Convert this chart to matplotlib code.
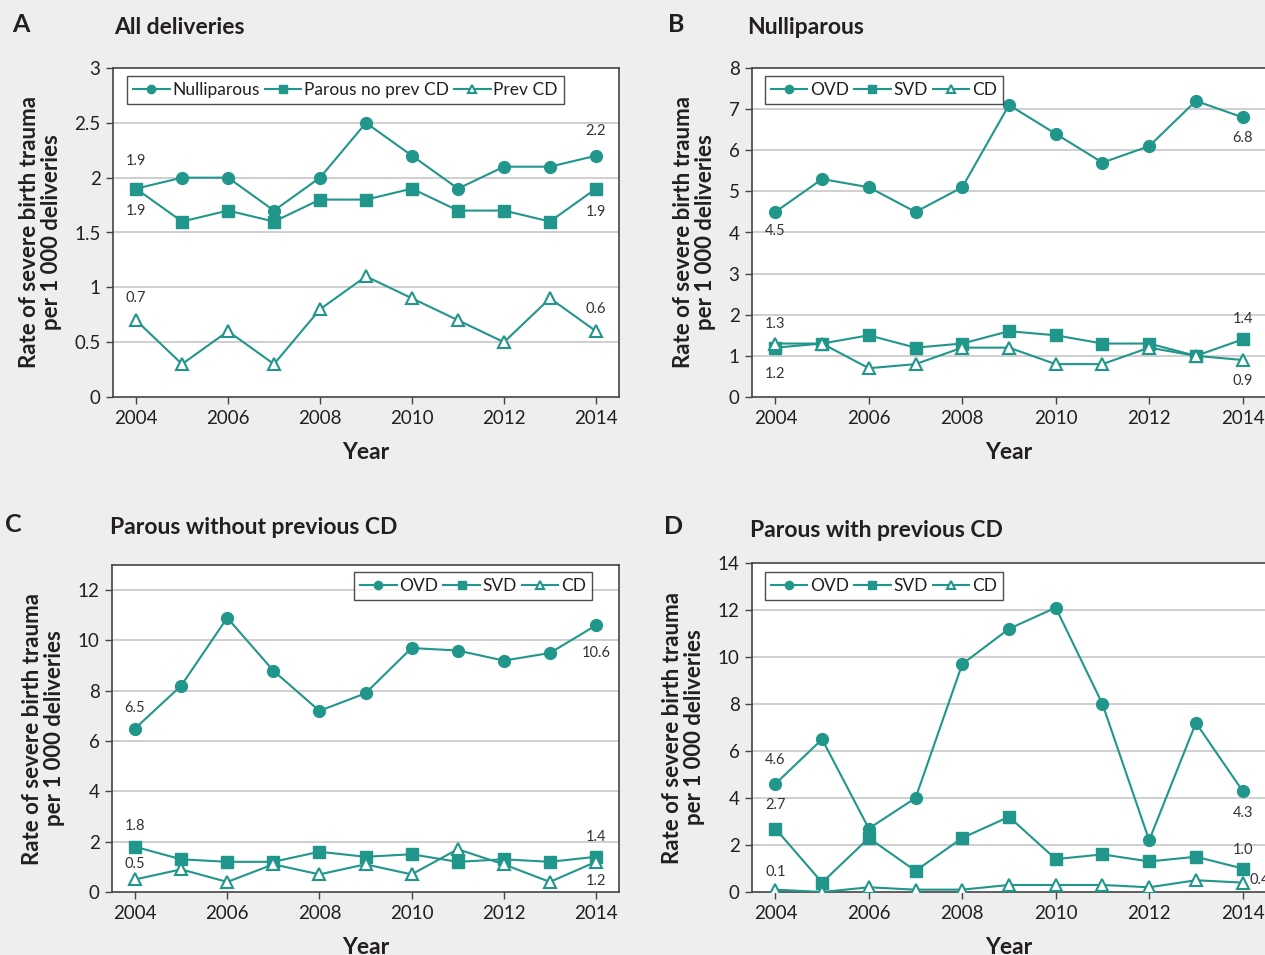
import matplotlib
matplotlib.use('Agg')
import matplotlib.pyplot as plt
from matplotlib.ticker import FuncFormatter

plt.rcParams['font.family'] = ['Lato', 'DejaVu Sans']

years = [2004, 2005, 2006, 2007, 2008, 2009, 2010, 2011, 2012, 2013, 2014]

# A - all deliveries
all_nulliparous = [1.9, 2.0, 2.0, 1.7, 2.0, 2.5, 2.2, 1.9, 2.1, 2.1, 2.2]
all_parous_no_cd = [1.9, 1.6, 1.7, 1.6, 1.8, 1.8, 1.9, 1.7, 1.7, 1.6, 1.9]
all_prev_cd = [0.7, 0.3, 0.6, 0.3, 0.8, 1.1, 0.9, 0.7, 0.5, 0.9, 0.6]

# B - nulliparous
nul_ovd = [4.5, 5.3, 5.1, 4.5, 5.1, 7.1, 6.4, 5.7, 6.1, 7.2, 6.8]
nul_svd = [1.2, 1.3, 1.5, 1.2, 1.3, 1.6, 1.5, 1.3, 1.3, 1.0, 1.4]
nul_cd = [1.3, 1.3, 0.7, 0.8, 1.2, 1.2, 0.8, 0.8, 1.2, 1.0, 0.9]

# C - parous without previous CD
par_ovd = [6.5, 8.2, 10.9, 8.8, 7.2, 7.9, 9.7, 9.6, 9.2, 9.5, 10.6]
par_svd = [1.8, 1.3, 1.2, 1.2, 1.6, 1.4, 1.5, 1.2, 1.3, 1.2, 1.4]
par_cd = [0.5, 0.9, 0.4, 1.1, 0.7, 1.1, 0.7, 1.7, 1.1, 0.4, 1.2]

# D - parous with previous CD
prev_ovd = [4.6, 6.5, 2.7, 4.0, 9.7, 11.2, 12.1, 8.0, 2.2, 7.2, 4.3]
prev_svd = [2.7, 0.4, 2.3, 0.9, 2.3, 3.2, 1.4, 1.6, 1.3, 1.5, 1.0]
prev_cd = [0.1, 0.0, 0.2, 0.1, 0.1, 0.3, 0.3, 0.3, 0.2, 0.5, 0.4]

TEAL = '#21968a'
DARK = '#231f20'
YLABEL = 'Rate of severe birth trauma\nper 1 000 deliveries'


def draw_panel(ax, series, labels, ymax, ystep, notes_first, notes_last,
               legend_loc, legend_anchor):
    markers = [
        dict(marker='o', markersize=8.5, markerfacecolor=TEAL),
        dict(marker='s', markersize=8, markerfacecolor=TEAL),
        dict(marker='^', markersize=8, markerfacecolor='white',
             markeredgewidth=1.5),
    ]
    for vals, lab, mk in zip(series, labels, markers):
        ax.plot(years, vals, color=TEAL, linewidth=1.5,
                markeredgecolor=TEAL, label=lab, zorder=3, **mk)

    # value labels at the first and last year
    for vals, off in zip(series, notes_first):
        ax.annotate(f'{vals[0]:.1f}', (years[0], vals[0]),
                    xytext=off, textcoords='offset points',
                    ha='center', va='center', fontsize=10.5, color='#333333')
    for vals, off in zip(series, notes_last):
        ha = 'left' if off[0] > 0 else 'center'
        ax.annotate(f'{vals[-1]:.1f}', (years[-1], vals[-1]),
                    xytext=off, textcoords='offset points',
                    ha=ha, va='center', fontsize=10.5, color='#333333',
                    annotation_clip=False)

    ax.set_xlim(2003.5, 2014.5)
    ax.set_ylim(0, ymax)
    ax.set_xticks(range(2004, 2015, 2))
    ticks = []
    t = 0
    while t <= ymax + 1e-9:
        ticks.append(t)
        t += ystep
    ax.set_yticks(ticks)
    ax.yaxis.set_major_formatter(FuncFormatter(lambda v, p: f'{v:g}'))
    for t in ticks[1:]:
        if t < ymax - 1e-9:
            ax.axhline(t, color='#cfcfcf', linewidth=1.4, zorder=1)
    ax.tick_params(direction='out', length=5, width=1, color='#444444',
                   labelsize=13.5, labelcolor=DARK, pad=4)
    for s in ax.spines.values():
        s.set_color('#444444')
        s.set_linewidth(1.2)
    ax.set_xlabel('Year', fontsize=16.5, fontweight='bold', color=DARK,
                  labelpad=11)
    ax.set_ylabel(YLABEL, fontsize=16, fontweight='bold', color=DARK,
                  labelpad=9, linespacing=1.05)
    leg = ax.legend(loc=legend_loc, bbox_to_anchor=legend_anchor, ncol=3,
                    fontsize=12.5, frameon=True, fancybox=False,
                    handlelength=2.1, handletextpad=0.15,
                    columnspacing=0.3, borderpad=0.35, borderaxespad=0,
                    markerscale=0.7)
    leg.get_frame().set_edgecolor(DARK)
    leg.get_frame().set_linewidth(1.0)
    for txt in leg.get_texts():
        txt.set_color(DARK)


fig = plt.figure(figsize=(12.65, 9.55), dpi=100)
fig.patch.set_facecolor('#eeeeee')

W, H = 1265, 955


def box(left, top, right, bottom):
    return [left / W, 1 - bottom / H, (right - left) / W, (bottom - top) / H]


ax_a = fig.add_axes(box(113, 68, 619, 397))
ax_b = fig.add_axes(box(752, 68, 1266, 397))
ax_c = fig.add_axes(box(112, 565, 619, 892))
ax_d = fig.add_axes(box(752, 563, 1266, 892))

draw_panel(ax_a, [all_nulliparous, all_parous_no_cd, all_prev_cd],
           ['Nulliparous', 'Parous no prev CD', 'Prev CD'], 3, 0.5,
           [(0, 20), (0, -16), (0, 16)], [(0, 18), (0, -17), (0, 16)],
           'upper left', (0.028, 0.975))
draw_panel(ax_b, [nul_ovd, nul_svd, nul_cd], ['OVD', 'SVD', 'CD'], 8, 1,
           [(0, -14), (0, -19), (0, 14)], [(0, -15), (0, 15), (0, -15)],
           'upper left', (0.025, 0.975))
draw_panel(ax_c, [par_ovd, par_svd, par_cd], ['OVD', 'SVD', 'CD'], 13, 2,
           [(0, 15), (0, 15), (0, 11)], [(0, -20), (0, 14), (0, -14)],
           'upper right', (0.947, 0.978))
draw_panel(ax_d, [prev_ovd, prev_svd, prev_cd], ['OVD', 'SVD', 'CD'], 14, 2,
           [(0, 17), (0, 17), (0, 13)], [(0, -16), (0, 13), (5, 2)],
           'upper left', (0.025, 0.972))

fig.text(12 / W, 1 - 25 / H, 'A', fontsize=18, fontweight='bold',
         color=DARK, va='center')
fig.text(114 / W, 1 - 28 / H, 'All deliveries', fontsize=16.5,
         fontweight='bold', color=DARK, va='center')
fig.text(668 / W, 1 - 25 / H, 'B', fontsize=18, fontweight='bold',
         color=DARK, va='center')
fig.text(747 / W, 1 - 28 / H, 'Nulliparous', fontsize=16.5,
         fontweight='bold', color=DARK, va='center')
fig.text(5 / W, 1 - 524 / H, 'C', fontsize=18, fontweight='bold',
         color=DARK, va='center')
fig.text(110 / W, 1 - 527 / H, 'Parous without previous CD', fontsize=16.5,
         fontweight='bold', color=DARK, va='center')
fig.text(664 / W, 1 - 526 / H, 'D', fontsize=18, fontweight='bold',
         color=DARK, va='center')
fig.text(750 / W, 1 - 530 / H, 'Parous with previous CD', fontsize=16.5,
         fontweight='bold', color=DARK, va='center')

fig.savefig('out.png', dpi=100, facecolor=fig.get_facecolor())
